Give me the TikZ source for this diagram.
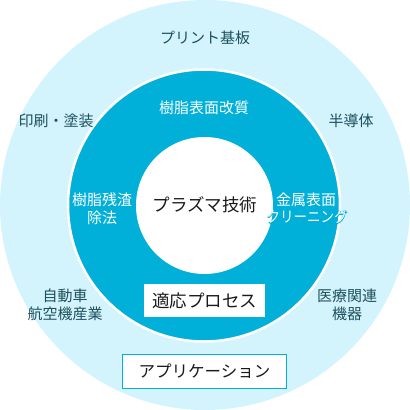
\documentclass[tikz,border=0pt]{standalone}
\usepackage{fontspec}
\newfontfamily\jp{Noto Sans CJK JP}
\definecolor{outerc}{HTML}{D3F4FC}
\definecolor{ringc}{HTML}{00B0D9}
\definecolor{labc}{HTML}{1D4F5E}
\definecolor{txtc}{HTML}{1A1A1A}
\tikzset{
  outl/.style={inner sep=0pt, text=labc, align=center, font=\jp\fontsize{15bp}{18bp}\selectfont},
  inl/.style={inner sep=0pt, text=white, align=center, font=\jp\fontsize{15bp}{18bp}\selectfont},
  mainl/.style={inner sep=0pt, text=txtc, font=\jp\fontsize{17.5bp}{20bp}\selectfont},
  procbox/.style={fill=white, minimum width=121bp, minimum height=33bp, inner sep=0pt, text=txtc, font=\jp\fontsize{17.5bp}{20bp}\selectfont},
  appbox/.style={fill=white, draw=ringc, line width=1bp, minimum width=163bp, minimum height=34bp, inner sep=0pt, text=txtc, font=\jp\fontsize{16.5bp}{20bp}\selectfont},
}
\newcommand{\halostroke}[1]{\special{pdf:literal direct 1 Tr 0.8 w 0 0.69 0.85 RG}#1\special{pdf:literal direct 0 Tr}}
\begin{document}
\begin{tikzpicture}[x=1bp,y=-1bp]
\useasboundingbox (0,0) rectangle (410,410);
\fill[outerc] (205,205) circle[radius=205];
\filldraw[fill=ringc, draw=white, line width=2.5bp] (204,205.5) circle[radius=136];
\fill[white] (204.5,205.5) circle[radius=68.5];

\node[outl] (pcb) at (205,38) {プリント基板};
\node[inl] (jushi) at (204,108) {樹脂表面改質};
\node[outl] (insatsu) at (56,121) {印刷・塗装};
\node[outl] (handotai) at (351,121) {半導体};
\node[inl] (zansa) at (102,209) {樹脂残渣\\除法};
\node[mainl] (plasma) at (205,205) {プラズマ技術};
\node[inl] (kinzoku) at (306,200) {金属表面};
\node[inl, xscale=0.9] (cleanhalo) at (307,217) {\halostroke{クリーニング}};
\node[inl, xscale=0.9] (clean) at (307,217) {クリーニング};
\node[procbox] (proc) at (204.5,300.5) {適応プロセス};
\node[outl] (jidosha) at (65,305) {自動車\\航空機産業};
\node[outl] (iryo) at (347,305) {医療関連\\機器};
\node[appbox] (app) at (204.5,371) {アプリケーション};
\end{tikzpicture}
\end{document}
